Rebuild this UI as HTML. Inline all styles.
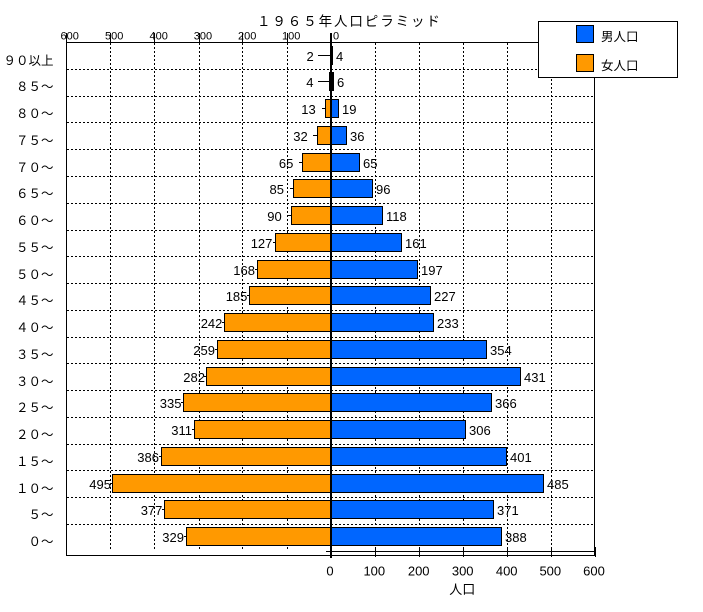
<!DOCTYPE html>
<html><head><meta charset="utf-8"><style>
html,body{margin:0;padding:0;background:#fff;}
svg{display:block;}
text{font-family:"Liberation Sans","Noto Sans CJK JP",sans-serif;fill:#000;}
.j{font-family:"Liberation Sans","Noto Sans CJK JP",sans-serif;}
</style></head><body>
<svg width="703" height="612" viewBox="0 0 703 612" xmlns="http://www.w3.org/2000/svg">
<rect x="0" y="0" width="703" height="612" fill="#fff"/>
<text x="257" y="26" font-size="13.5" letter-spacing="1.9" class="j">１９６５年人口ピラミッド</text>
<g font-size="11">
<text x="60.5" y="39.5">600</text>
<text x="105" y="39.5">500</text>
<text x="149.5" y="39.5">400</text>
<text x="193.8" y="39.5">300</text>
<text x="238" y="39.5">200</text>
<text x="282" y="39.5">100</text>
<text x="333" y="39.5">0</text>
</g>
<g font-size="12.5" text-anchor="end" class="j">
<text x="53.5" y="65">９０以上</text>
<text x="53.5" y="91">８５～</text>
<text x="53.5" y="118">８０～</text>
<text x="53.5" y="145">７５～</text>
<text x="53.5" y="172">７０～</text>
<text x="53.5" y="198">６５～</text>
<text x="53.5" y="225">６０～</text>
<text x="53.5" y="252">５５～</text>
<text x="53.5" y="279">５０～</text>
<text x="53.5" y="305">４５～</text>
<text x="53.5" y="332">４０～</text>
<text x="53.5" y="359">３５～</text>
<text x="53.5" y="386">３０～</text>
<text x="53.5" y="412">２５～</text>
<text x="53.5" y="439">２０～</text>
<text x="53.5" y="466">１５～</text>
<text x="53.5" y="493">１０～</text>
<text x="53.5" y="519">５～</text>
<text x="53.5" y="546">０～</text>
</g>
<g font-size="13" text-anchor="end">
<text x="313.7" y="61">2</text>
<text x="313.5" y="87">4</text>
<text x="315.7" y="114">13</text>
<text x="307.7" y="141">32</text>
<text x="293.4" y="168">65</text>
<text x="284" y="194">85</text>
<text x="281.7" y="221">90</text>
<text x="272.4" y="248">127</text>
<text x="255" y="275">168</text>
<text x="247.4" y="301">185</text>
<text x="222.4" y="328">242</text>
<text x="215" y="355">259</text>
<text x="205" y="382">282</text>
<text x="181.5" y="408">335</text>
<text x="192" y="435">311</text>
<text x="159" y="462">386</text>
<text x="111" y="489">495</text>
<text x="162.4" y="515">377</text>
<text x="184" y="542">329</text>
</g>
<g font-size="13">
<text x="336" y="61">4</text>
<text x="337" y="87">6</text>
<text x="342" y="114">19</text>
<text x="350" y="141">36</text>
<text x="363" y="168">65</text>
<text x="376" y="194">96</text>
<text x="386" y="221">118</text>
<text x="405" y="248">161</text>
<text x="421" y="275">197</text>
<text x="434" y="301">227</text>
<text x="437" y="328">233</text>
<text x="490" y="355">354</text>
<text x="524" y="382">431</text>
<text x="495" y="408">366</text>
<text x="469" y="435">306</text>
<text x="510" y="462">401</text>
<text x="547" y="489">485</text>
<text x="497" y="515">371</text>
<text x="505" y="542">388</text>
</g>
<g stroke="#000" stroke-width="1" shape-rendering="crispEdges">
<line x1="318" y1="55.5" x2="330" y2="55.5"/>
<line x1="318" y1="81.5" x2="329" y2="81.5"/>
<line x1="322" y1="108.5" x2="325" y2="108.5"/>
<line x1="313" y1="135.5" x2="317" y2="135.5"/>
<line x1="299" y1="162.5" x2="302" y2="162.5"/>
<line x1="290" y1="188.5" x2="293" y2="188.5"/>
<line x1="288" y1="215.5" x2="291" y2="215.5"/>
<line x1="273" y1="242.5" x2="275" y2="242.5"/>
<line x1="255" y1="269.5" x2="257" y2="269.5"/>
<line x1="247" y1="295.5" x2="249" y2="295.5"/>
<line x1="222" y1="322.5" x2="224" y2="322.5"/>
<line x1="215" y1="349.5" x2="217" y2="349.5"/>
<line x1="204" y1="376.5" x2="206" y2="376.5"/>
<line x1="181" y1="402.5" x2="183" y2="402.5"/>
<line x1="192" y1="429.5" x2="194" y2="429.5"/>
<line x1="159" y1="456.5" x2="161" y2="456.5"/>
<line x1="110" y1="483.5" x2="112" y2="483.5"/>
<line x1="162" y1="509.5" x2="164" y2="509.5"/>
<line x1="184" y1="536.5" x2="186" y2="536.5"/>
</g>
<g stroke="#000" stroke-width="1" stroke-dasharray="2,2" shape-rendering="crispEdges">
<line x1="67" y1="69.5" x2="594" y2="69.5"/>
<line x1="67" y1="96.5" x2="594" y2="96.5"/>
<line x1="67" y1="122.5" x2="594" y2="122.5"/>
<line x1="67" y1="149.5" x2="594" y2="149.5"/>
<line x1="67" y1="176.5" x2="594" y2="176.5"/>
<line x1="67" y1="203.5" x2="594" y2="203.5"/>
<line x1="67" y1="230.5" x2="594" y2="230.5"/>
<line x1="67" y1="256.5" x2="594" y2="256.5"/>
<line x1="67" y1="283.5" x2="594" y2="283.5"/>
<line x1="67" y1="310.5" x2="594" y2="310.5"/>
<line x1="67" y1="337.5" x2="594" y2="337.5"/>
<line x1="67" y1="363.5" x2="594" y2="363.5"/>
<line x1="67" y1="390.5" x2="594" y2="390.5"/>
<line x1="67" y1="417.5" x2="594" y2="417.5"/>
<line x1="67" y1="444.5" x2="594" y2="444.5"/>
<line x1="67" y1="470.5" x2="594" y2="470.5"/>
<line x1="67" y1="497.5" x2="594" y2="497.5"/>
<line x1="67" y1="524.5" x2="594" y2="524.5"/>
<line x1="110.5" y1="43" x2="110.5" y2="551"/>
<line x1="154.5" y1="43" x2="154.5" y2="551"/>
<line x1="199.5" y1="43" x2="199.5" y2="551"/>
<line x1="242.5" y1="43" x2="242.5" y2="551"/>
<line x1="287.5" y1="43" x2="287.5" y2="551"/>
<line x1="375.5" y1="43" x2="375.5" y2="551"/>
<line x1="419.5" y1="43" x2="419.5" y2="551"/>
<line x1="463.5" y1="43" x2="463.5" y2="551"/>
<line x1="507.5" y1="43" x2="507.5" y2="551"/>
<line x1="551.5" y1="43" x2="551.5" y2="551"/>
</g>
<g fill="#FF9900" stroke="#000" stroke-width="1" shape-rendering="crispEdges">
<rect x="330.5" y="46.5" width="1" height="18"/>
<rect x="329.5" y="72.5" width="2" height="18"/>
<rect x="325.5" y="99.5" width="6" height="18"/>
<rect x="317.5" y="126.5" width="14" height="18"/>
<rect x="302.5" y="153.5" width="29" height="18"/>
<rect x="293.5" y="179.5" width="38" height="18"/>
<rect x="291.5" y="206.5" width="40" height="18"/>
<rect x="275.5" y="233.5" width="56" height="18"/>
<rect x="257.5" y="260.5" width="74" height="18"/>
<rect x="249.5" y="286.5" width="82" height="18"/>
<rect x="224.5" y="313.5" width="107" height="18"/>
<rect x="217.5" y="340.5" width="114" height="18"/>
<rect x="206.5" y="367.5" width="125" height="18"/>
<rect x="183.5" y="393.5" width="148" height="18"/>
<rect x="194.5" y="420.5" width="137" height="18"/>
<rect x="161.5" y="447.5" width="170" height="18"/>
<rect x="112.5" y="474.5" width="219" height="18"/>
<rect x="164.5" y="500.5" width="167" height="18"/>
<rect x="186.5" y="527.5" width="145" height="18"/>
</g>
<g fill="#0066FF" stroke="#000" stroke-width="1" shape-rendering="crispEdges">
<rect x="330.5" y="46.5" width="2" height="18"/>
<rect x="330.5" y="72.5" width="3" height="18"/>
<rect x="330.5" y="99.5" width="8" height="18"/>
<rect x="330.5" y="126.5" width="16" height="18"/>
<rect x="330.5" y="153.5" width="29" height="18"/>
<rect x="330.5" y="179.5" width="42" height="18"/>
<rect x="330.5" y="206.5" width="52" height="18"/>
<rect x="330.5" y="233.5" width="71" height="18"/>
<rect x="330.5" y="260.5" width="87" height="18"/>
<rect x="330.5" y="286.5" width="100" height="18"/>
<rect x="330.5" y="313.5" width="103" height="18"/>
<rect x="330.5" y="340.5" width="156" height="18"/>
<rect x="330.5" y="367.5" width="190" height="18"/>
<rect x="330.5" y="393.5" width="161" height="18"/>
<rect x="330.5" y="420.5" width="135" height="18"/>
<rect x="330.5" y="447.5" width="176" height="18"/>
<rect x="330.5" y="474.5" width="213" height="18"/>
<rect x="330.5" y="500.5" width="163" height="18"/>
<rect x="330.5" y="527.5" width="171" height="18"/>
</g>
<rect x="329" y="72" width="5" height="19" fill="#000"/>
<g stroke="#000" stroke-width="1" fill="none" shape-rendering="crispEdges">
<rect x="66.5" y="42.5" width="528" height="513"/>
<line x1="326" y1="551.5" x2="596" y2="551.5"/>
<line x1="66.5" y1="33" x2="66.5" y2="42"/>
<line x1="110.5" y1="33" x2="110.5" y2="42"/>
<line x1="154.5" y1="33" x2="154.5" y2="42"/>
<line x1="199.5" y1="33" x2="199.5" y2="42"/>
<line x1="242.5" y1="33" x2="242.5" y2="42"/>
<line x1="287.5" y1="33" x2="287.5" y2="42"/>
<line x1="375.5" y1="547" x2="375.5" y2="557"/>
<line x1="419.5" y1="547" x2="419.5" y2="557"/>
<line x1="463.5" y1="547" x2="463.5" y2="557"/>
<line x1="507.5" y1="547" x2="507.5" y2="557"/>
<line x1="551.5" y1="547" x2="551.5" y2="557"/>
<line x1="595.5" y1="547" x2="595.5" y2="557"/>
</g>
<rect x="330" y="33" width="2" height="525" fill="#000"/>
<g font-size="13" text-anchor="middle">
<text x="330" y="575.5">0</text>
<text x="374.3" y="575.5">100</text>
<text x="418.7" y="575.5">200</text>
<text x="462.7" y="575.5">300</text>
<text x="506.7" y="575.5">400</text>
<text x="550.3" y="575.5">500</text>
<text x="594" y="575.5">600</text>
</g>
<text x="462.3" y="594" font-size="13" text-anchor="middle" class="j">人口</text>
<rect x="538.5" y="21.5" width="139" height="56" fill="#fff" stroke="#000" stroke-width="1" shape-rendering="crispEdges"/>
<rect x="576.5" y="25.5" width="17" height="17" fill="#0066FF" stroke="#000" stroke-width="1" shape-rendering="crispEdges"/>
<rect x="576.5" y="54.5" width="17" height="17" fill="#FF9900" stroke="#000" stroke-width="1" shape-rendering="crispEdges"/>
<text x="601" y="41" font-size="12.5" class="j">男人口</text>
<text x="601" y="70" font-size="12.5" class="j">女人口</text>
</svg>
</body></html>
